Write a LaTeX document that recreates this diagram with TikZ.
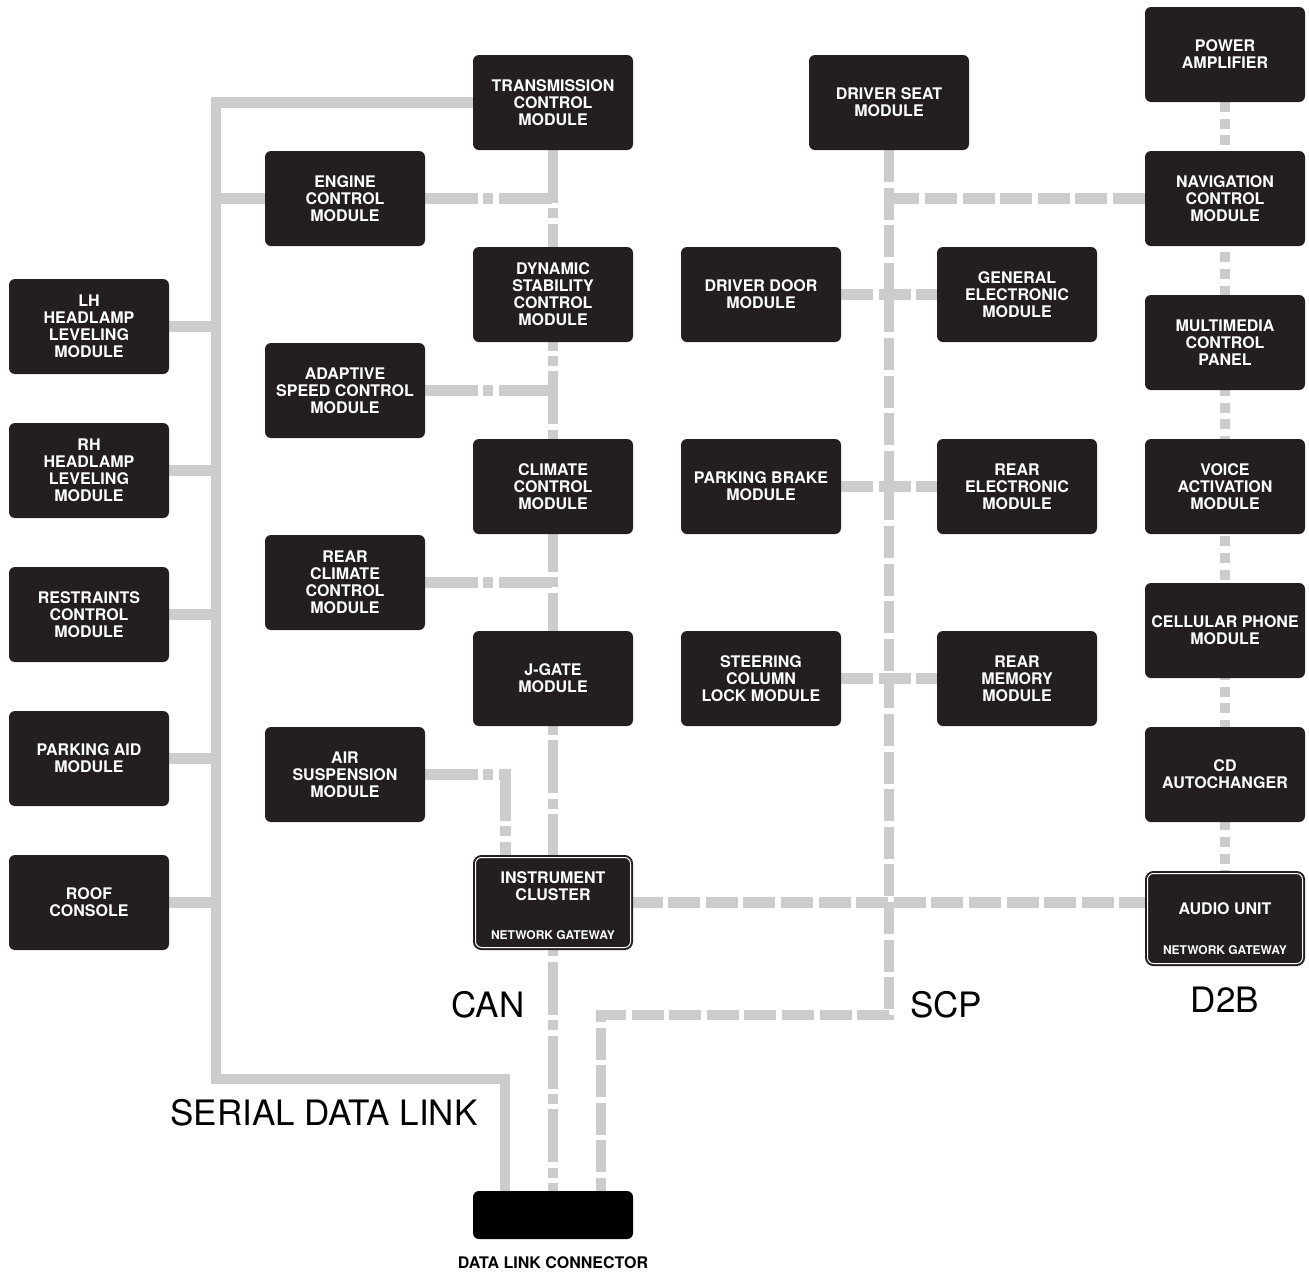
\documentclass[tikz,border=0pt]{standalone}
\usepackage{fontspec}
\setmainfont{TeX Gyre Heros}
\usepackage{tikz}
\usetikzlibrary{positioning,calc,backgrounds}
\definecolor{boxBlack}{HTML}{231F20}
\definecolor{busGray}{HTML}{CCCCCC}
\tikzset{
  module/.style={rectangle, rounded corners=3pt, fill=boxBlack, text=white, align=center, minimum width=80pt, minimum height=47.5pt, inner sep=1pt, outer sep=0pt, font=\bfseries\fontsize{8}{8.5}\selectfont},
  gateway/.style={module, draw=boxBlack, line width=1pt, double=white, double distance=0.5pt, minimum width=77.5pt, minimum height=45pt},
  connector/.style={rectangle, rounded corners=3pt, fill=black, minimum width=80pt, minimum height=24pt, outer sep=0pt},
  serial/.style={draw=busGray, line width=5.3pt},
  canbus/.style={serial, dash pattern=on 26.5pt off 2.7pt on 5pt off 2.7pt},
  scpbus/.style={serial, dash pattern=on 16pt off 2.8pt},
  dtwob/.style={serial, dash pattern=on 5pt off 3.35pt},
  buslabel/.style={inner sep=0pt, font=\fontsize{17.5}{20}\selectfont}
}
\begin{document}
\begin{tikzpicture}[x=0.5pt, y=-0.5pt]
\useasboundingbox (0,0) rectangle (1309,1275);
% left column
\node[module] (lhh) at (89,326.5) {LH\\HEADLAMP\\LEVELING\\MODULE};
\node[module, below=24.5pt of lhh] (rhh) {RH\\HEADLAMP\\LEVELING\\MODULE};
\node[module, below=24.5pt of rhh] (rcm) {RESTRAINTS\\CONTROL\\MODULE};
\node[module, below=24.5pt of rcm] (pam) {PARKING AID\\MODULE};
\node[module, below=24.5pt of pam] (roof) {ROOF\\CONSOLE};
% CAN modules
\node[module] (ecm) at (345,198.5) {ENGINE\\CONTROL\\MODULE};
\node[module, below=48.5pt of ecm] (asc) {ADAPTIVE\\SPEED CONTROL\\MODULE};
\node[module, below=48.5pt of asc] (rcc) {REAR\\CLIMATE\\CONTROL\\MODULE};
\node[module, below=48.5pt of rcc] (air) {AIR\\SUSPENSION\\MODULE};
\node[module] (tcm) at (553,102.5) {TRANSMISSION\\CONTROL\\MODULE};
\node[module, below=48.5pt of tcm] (dsc) {DYNAMIC\\STABILITY\\CONTROL\\MODULE};
\node[module, below=48.5pt of dsc] (ccm) {CLIMATE\\CONTROL\\MODULE};
\node[module, below=48.5pt of ccm] (jgate) {J-GATE\\MODULE};
\node[gateway] (ic) at (553,902.5) {\rule{0pt}{9.5pt}INSTRUMENT\\CLUSTER\\[11pt]{\fontsize{6}{7}\selectfont NETWORK GATEWAY}};
% SCP modules
\node[module] (dsm) at (889,102.5) {DRIVER SEAT\\MODULE};
\node[module] (ddm) at (761,294.5) {DRIVER DOOR\\MODULE};
\node[module, below=48.5pt of ddm] (pbm) {PARKING BRAKE\\MODULE};
\node[module, below=48.5pt of pbm] (sclm) {STEERING\\COLUMN\\LOCK MODULE};
\node[module, right=48pt of ddm] (gem) {GENERAL\\ELECTRONIC\\MODULE};
\node[module, right=48pt of pbm] (rem) {REAR\\ELECTRONIC\\MODULE};
\node[module, right=48pt of sclm] (rmm) {REAR\\MEMORY\\MODULE};
% D2B modules
\node[module] (amp) at (1225,54.5) {POWER\\AMPLIFIER};
\node[module, below=24.5pt of amp] (nav) {NAVIGATION\\CONTROL\\MODULE};
\node[module, below=24.5pt of nav] (mcp) {MULTIMEDIA\\CONTROL\\PANEL};
\node[module, below=24.5pt of mcp] (vam) {VOICE\\ACTIVATION\\MODULE};
\node[module, below=24.5pt of vam] (cpm) {CELLULAR PHONE\\MODULE};
\node[module, below=24.5pt of cpm] (cd) {CD\\AUTOCHANGER};
\node[gateway] (audio) at (1225,918.5) {\rule{0pt}{16pt}AUDIO UNIT\\[11.5pt]{\fontsize{6}{7}\selectfont NETWORK GATEWAY}};
% connector and labels
\node[connector] (dlc) at (553,1215) {};
\node[below=8.5pt of dlc, inner sep=0pt, font=\bfseries\fontsize{8}{8.5}\selectfont] (dlclabel) {DATA LINK CONNECTOR};
\node[buslabel] (canlabel) at (488,1005) {CAN};
\node[buslabel] (scplabel) at (946,1005) {SCP};
\node[buslabel] (dtwoblabel) at (1225,1000) {D2B};
\node[buslabel] (sdllabel) at (324,1113) {SERIAL DATA LINK};
\begin{scope}[on background layer]
% serial data link
\coordinate (sdltop) at (216,102.5);
\coordinate (sdlbot) at (216,1079);
\draw[serial] (tcm.west) -- (sdltop) -- (sdlbot) -| ($(dlc.north west)+(32,0)$);
\foreach \m in {ecm,lhh,rhh,rcm,pam,roof}
  \draw[serial] (\m) -- (\m -| sdltop);
% CAN
\draw[canbus] (tcm.south) -- (dlc.north);
\foreach \m in {ecm,asc,rcc}
  \draw[canbus] (\m) -- (\m -| tcm);
\draw[canbus] (air) -| ($(ic.north west)+(30,0)$);
% SCP
\coordinate (scpturn) at (889,1015);
\draw[scpbus] (dsm.south) -- (scpturn) -| ($(dlc.north east)+(-32,0)$);
\draw[scpbus] (nav) -- (nav -| dsm);
\draw[scpbus] (ddm) -- (gem);
\draw[scpbus] (pbm) -- (rem);
\draw[scpbus] (sclm) -- (rmm);
\draw[scpbus] (ic.east) -- (ic.east -| audio.west);
% D2B
\draw[dtwob] (amp.south) -- (audio.north);
\end{scope}
\end{tikzpicture}
\end{document}
